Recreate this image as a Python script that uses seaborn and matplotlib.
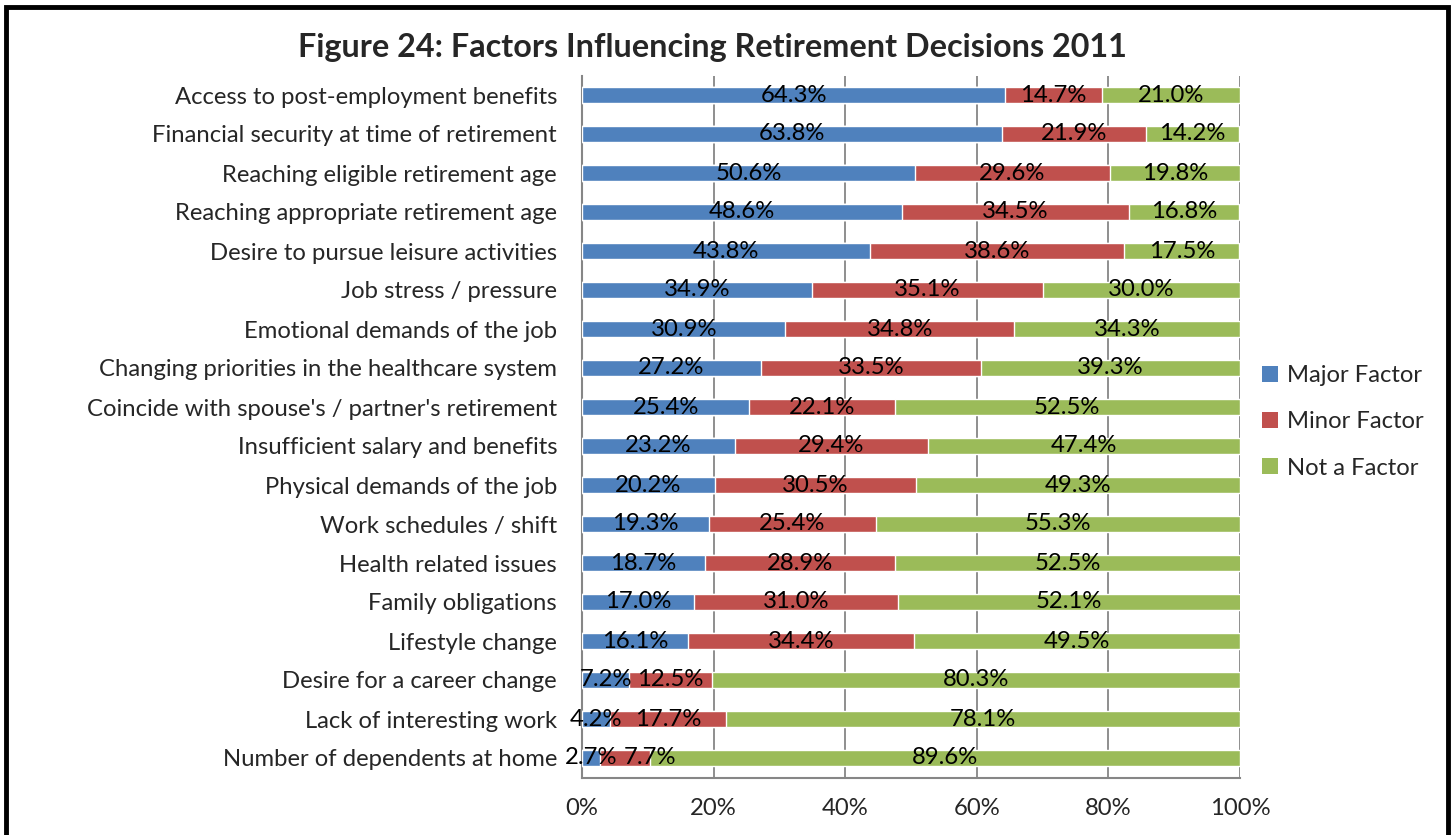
import matplotlib
matplotlib.use("Agg")
import matplotlib.pyplot as plt
import seaborn as sns
import pandas as pd
import numpy as np
from matplotlib.patches import Rectangle, Patch

categories = [
    "Access to post-employment benefits",
    "Financial security at time of retirement",
    "Reaching eligible retirement age",
    "Reaching appropriate retirement age",
    "Desire to pursue leisure activities",
    "Job stress / pressure",
    "Emotional demands of the job",
    "Changing priorities in the healthcare system",
    "Coincide with spouse's / partner's retirement",
    "Insufficient salary and benefits",
    "Physical demands of the job",
    "Work schedules / shift",
    "Health related issues",
    "Family obligations",
    "Lifestyle change",
    "Desire for a career change",
    "Lack of interesting work",
    "Number of dependents at home",
]
major = [64.3, 63.8, 50.6, 48.6, 43.8, 34.9, 30.9, 27.2, 25.4, 23.2, 20.2, 19.3, 18.7, 17.0, 16.1, 7.2, 4.2, 2.7]
minor = [14.7, 21.9, 29.6, 34.5, 38.6, 35.1, 34.8, 33.5, 22.1, 29.4, 30.5, 25.4, 28.9, 31.0, 34.4, 12.5, 17.7, 7.7]
not_factor = [21.0, 14.2, 19.8, 16.8, 17.5, 30.0, 34.3, 39.3, 52.5, 47.4, 49.3, 55.3, 52.5, 52.1, 49.5, 80.3, 78.1, 89.6]
series_names = ["Major Factor", "Minor Factor", "Not a Factor"]
colors = ["#4F81BD", "#C0504D", "#9BBB59"]
xticks = [0, 20, 40, 60, 80, 100]

sns.set_style("white")
plt.rcParams['font.family'] = ['Lato', 'DejaVu Sans']

df = pd.DataFrame({"cat": categories, "major": major, "minor": minor, "not": not_factor})
df["c1"] = df["major"]
df["c2"] = df["major"] + df["minor"]
df["c3"] = df["c2"] + df["not"]

fig = plt.figure(figsize=(14.55, 8.35), dpi=100)
ax = fig.add_axes([582/1455, 1-777.5/835, (1240-582)/1455, (777.5-75.5)/835])

bw = 0.41
sns.barplot(data=df, y="cat", x="c3", color=colors[2], orient="h", width=bw, ax=ax, saturation=1, zorder=3)
sns.barplot(data=df, y="cat", x="c2", color=colors[1], orient="h", width=bw, ax=ax, saturation=1, zorder=3)
sns.barplot(data=df, y="cat", x="c1", color=colors[0], orient="h", width=bw, ax=ax, saturation=1, zorder=3)

fs = 17.2
min_gap = 9.0  # minimal spacing between label centres (data units), like Excel's label nudging
for i, row in df.iterrows():
    starts = [0, row["c1"], row["c2"]]
    vals = [row["major"], row["minor"], row["not"]]
    prev = None
    for s, v in zip(starts, vals):
        cx = s + v/2
        if prev is not None and cx - prev < min_gap:
            cx = prev + min_gap
        prev = cx
        ax.text(cx, i, f"{v:.1f}%", ha="center", va="center", fontsize=fs, color="black", zorder=5)

ax.set_xlim(0, 100)
ax.set_ylim(len(categories)-0.5, -0.5)
ax.set_xticks(xticks)
ax.set_xticklabels([f"{t}%" for t in xticks], fontsize=fs)
ax.set_yticks(range(len(categories)))
ax.set_yticklabels(categories, fontsize=fs)
ax.set_yticks(np.arange(-0.5, len(categories), 1), minor=True)
ax.tick_params(axis="y", which="major", length=0, pad=18)
ax.tick_params(axis="y", which="minor", length=5, color="#868686", width=1.5, direction="out")
ax.tick_params(axis="x", which="major", length=5, color="#868686", width=1.5, direction="out", pad=10)
ax.set_xlabel("")
ax.set_ylabel("")
ax.grid(axis="x", color="#868686", linewidth=1.3, zorder=0)
ax.set_axisbelow(True)
for sp in ["top", "right"]:
    ax.spines[sp].set_visible(False)
for sp in ["left", "bottom"]:
    ax.spines[sp].set_color("#868686")
    ax.spines[sp].set_linewidth(1.5)

fig.text(712/1455, 1-48/835, "Figure 24: Factors Influencing Retirement Decisions 2011",
         ha="center", va="center", fontsize=23.3, fontweight="bold")

handles = [Patch(facecolor=c, edgecolor="none") for c in colors]
fig.legend(handles, series_names, loc="center left", bbox_to_anchor=(1262/1455, 1-422/835),
           frameon=False, fontsize=fs, handlelength=0.65, handleheight=0.65, borderpad=0,
           borderaxespad=0, handletextpad=0.4, labelspacing=1.05)

fig.patches.append(Rectangle((6/1455, -0.05), (1448-6)/1455, 1.05-7/835, transform=fig.transFigure,
                             fill=False, edgecolor="black", linewidth=3.5))

fig.savefig("out.png", dpi=100)
